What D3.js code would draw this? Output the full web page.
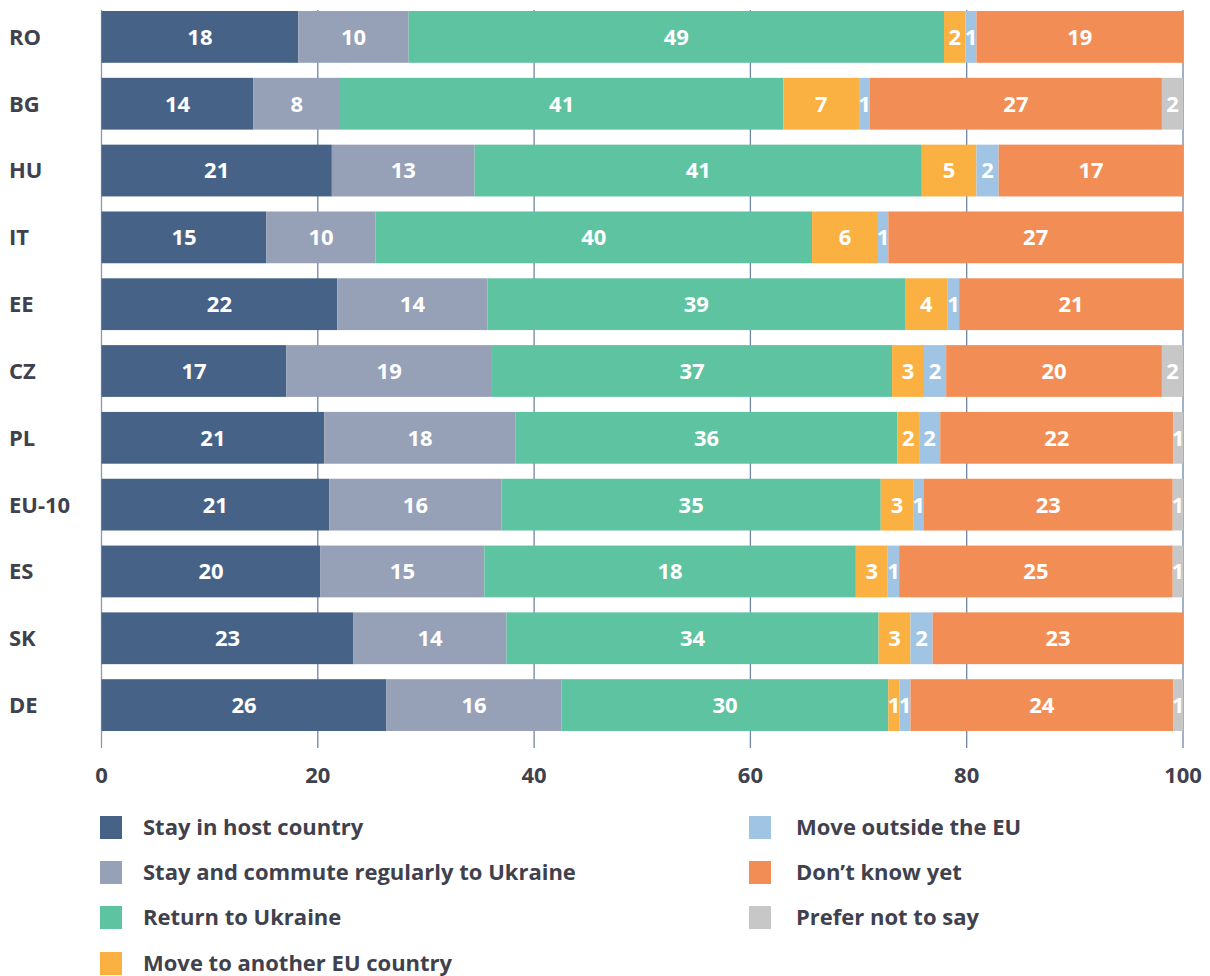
<!DOCTYPE html>
<html><head><meta charset="utf-8">
<script src="https://cdn.jsdelivr.net/npm/d3@7"></script>
<style>
html,body{margin:0;padding:0;background:#fff;}
svg{display:block;font-family:"Open Sans",Lato,sans-serif;font-weight:700;}
</style></head>
<body><svg id="c" width="1210" height="976"></svg>
<script>
const categories = ["RO","BG","HU","IT","EE","CZ","PL","EU-10","ES","SK","DE"];
const seriesNames = ["Stay in host country","Stay and commute regularly to Ukraine","Return to Ukraine","Move to another EU country","Move outside the EU","Don\u2019t know yet","Prefer not to say"];
const seriesColors = ["#466387","#96a0b7","#5ec3a0","#fbb042","#9fc4e4","#f28e55","#c7c7c7"];
// bar widths
const stayHost    = [18.2, 14.05, 21.3, 15.25, 21.8, 17.1, 20.6, 21.05, 20.25, 23.3, 26.35];
const stayCommute = [10.2, 8.0, 13.2, 10.1, 13.9, 19.0, 17.7, 15.95, 15.15, 14.15, 16.2];
const returnUA    = [49.5, 41.0, 41.35, 40.35, 38.6, 37.0, 35.3, 35.05, 34.35, 34.4, 30.2];
const moveEU      = [2.0, 7.0, 5.05, 6.1, 3.95, 2.95, 2.0, 3.0, 2.95, 2.95, 1.05];
const moveOutside = [1.0, 1.0, 2.05, 0.95, 1.05, 2.05, 1.95, 1.0, 1.05, 2.05, 1.0];
const dontKnow    = [19.1, 27.0, 17.1, 27.25, 20.7, 19.95, 21.55, 23.0, 25.3, 23.2, 24.3];
const preferNot   = [0, 1.95, 0, 0, 0, 1.95, 0.9, 0.95, 0.95, 0, 0.9];
// printed labels (as shown in the picture)
const lblStayHost    = [18,14,21,15,22,17,21,21,20,23,26];
const lblStayCommute = [10,8,13,10,14,19,18,16,15,14,16];
const lblReturnUA    = [49,41,41,40,39,37,36,35,18,34,30];
const lblMoveEU      = [2,7,5,6,4,3,2,3,3,3,1];
const lblMoveOutside = [1,1,2,1,1,2,2,1,1,2,1];
const lblDontKnow    = [19,27,17,27,21,20,22,23,25,23,24];
const lblPreferNot   = [0,2,0,0,0,2,1,1,1,0,1];
const xTicks = [0,20,40,60,80,100];

const values = [stayHost, stayCommute, returnUA, moveEU, moveOutside, dontKnow, preferNot];
const labels = [lblStayHost, lblStayCommute, lblReturnUA, lblMoveEU, lblMoveOutside, lblDontKnow, lblPreferNot];

const svg = d3.select("#c");
const textColor = "#3f414d";
const x = d3.scaleLinear().domain([0,100]).range([101.5,1183]);
const y = d3.scaleBand().domain(categories).range([3.5,738.5]).paddingInner(0.225).paddingOuter(0.1125);

// grid lines
svg.append("g").selectAll("line").data(xTicks).join("line")
  .attr("x1",d=>x(d)).attr("x2",d=>x(d)).attr("y1",10).attr("y2",748)
  .attr("stroke",d=>d===0?"#8d98ab":"#6f86a6").attr("stroke-width",1.3);

// stacked data
const rows = categories.map((c,i)=>{
  const o = {cat:c};
  seriesNames.forEach((s,k)=>{o[s]=values[k][i];});
  return o;
});
const stacked = d3.stack().keys(seriesNames)(rows);

const g = svg.append("g");
stacked.forEach((layer,k)=>{
  g.append("g").selectAll("rect").data(layer).join("rect")
    .attr("x",d=>x(d[0])).attr("width",d=>x(d[1])-x(d[0]))
    .attr("y",d=>y(d.data.cat)).attr("height",y.bandwidth())
    .attr("fill",seriesColors[k]);
});
stacked.forEach((layer,k)=>{
  g.append("g").selectAll("text").data(layer.filter((d,i)=>labels[k][i]>0))
    .join("text")
    .attr("x",d=>(x(d[0])+x(d[1]))/2)
    .attr("y",d=>y(d.data.cat)+y.bandwidth()/2)
    .attr("dy","0.36em")
    .attr("text-anchor","middle")
    .attr("fill","#fff").attr("font-size",22)
    .text(d=>labels[k][categories.indexOf(d.data.cat)]);
});

// category labels
svg.append("g").selectAll("text").data(categories).join("text")
  .attr("x",9).attr("y",d=>y(d)+y.bandwidth()/2).attr("dy","0.36em")
  .attr("fill",textColor).attr("font-size",22).text(d=>d);

// x axis labels
svg.append("g").selectAll("text").data(xTicks).join("text")
  .attr("x",d=>x(d)).attr("y",775).attr("dy","0.36em").attr("text-anchor","middle")
  .attr("fill",textColor).attr("font-size",22).text(d=>d);

// legend
const legendPos = [[100,816,143],[100,861,143],[100,906,143],[100,952,143],[749,816,796],[749,861,796],[749,906,796]];
const lg = svg.append("g");
seriesNames.forEach((s,k)=>{
  const [lx,ly,tx] = legendPos[k];
  lg.append("rect").attr("x",lx).attr("y",ly).attr("width",22).attr("height",23).attr("fill",seriesColors[k]);
  lg.append("text").attr("x",tx).attr("y",ly+11.5).attr("dy","0.36em")
    .attr("fill",textColor).attr("font-size",22).text(s);
});
</script></body></html>
